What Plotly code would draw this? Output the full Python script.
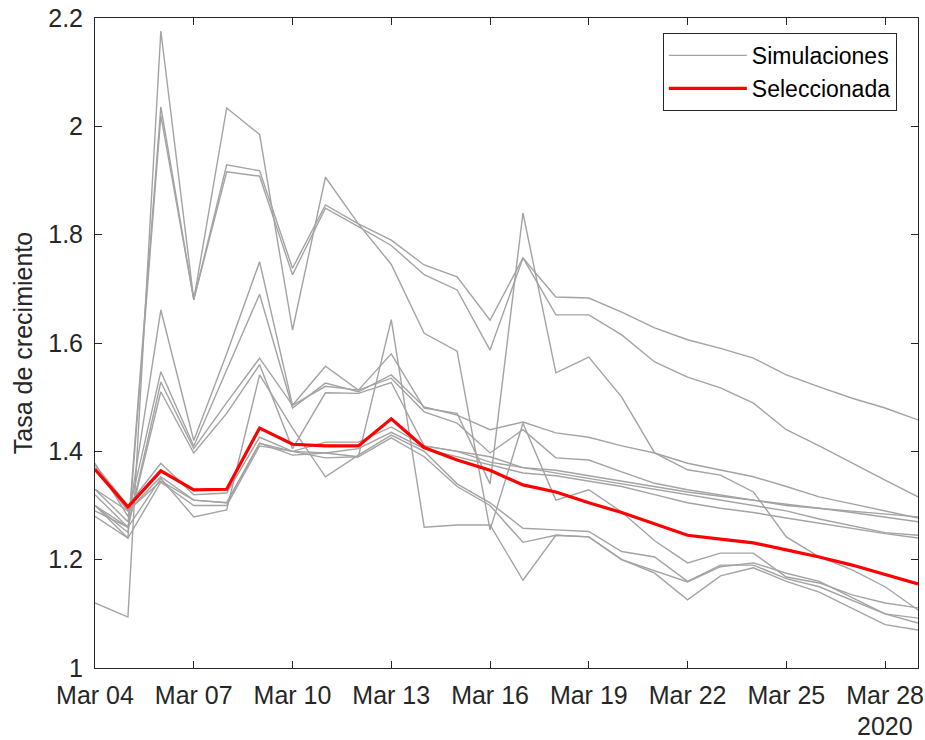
import plotly.graph_objects as go
import pandas as pd

dates = pd.date_range("2020-03-04", "2020-03-29", freq="D")

# Simulated growth-rate series (Simulaciones)
sim_a = [1.12, 1.094, 2.176, 1.68, 2.034, 1.985, 1.624, 1.906, 1.82, 1.745, 1.618, 1.585, 1.255, 1.452, 1.31, 1.329, 1.288, 1.235, 1.194, 1.212, 1.212, 1.168, 1.157, 1.135, 1.12, 1.111]
sim_b = [1.30, 1.25, 2.036, 1.68, 1.929, 1.918, 1.738, 1.855, 1.82, 1.79, 1.744, 1.722, 1.642, 1.757, 1.685, 1.683, 1.657, 1.628, 1.606, 1.59, 1.572, 1.541, 1.519, 1.498, 1.48, 1.458]
sim_c = [1.28, 1.24, 2.02, 1.68, 1.916, 1.908, 1.726, 1.849, 1.815, 1.78, 1.726, 1.698, 1.587, 1.757, 1.652, 1.652, 1.615, 1.565, 1.537, 1.517, 1.489, 1.44, 1.41, 1.378, 1.347, 1.316]
sim_d = [1.33, 1.27, 1.661, 1.42, 1.58, 1.75, 1.485, 1.557, 1.513, 1.58, 1.48, 1.47, 1.34, 1.84, 1.545, 1.574, 1.50, 1.397, 1.366, 1.356, 1.325, 1.242, 1.205, 1.181, 1.15, 1.107]
sim_e = [1.37, 1.29, 1.353, 1.31, 1.305, 1.415, 1.40, 1.397, 1.39, 1.643, 1.26, 1.264, 1.264, 1.162, 1.245, 1.242, 1.20, 1.18, 1.159, 1.187, 1.194, 1.175, 1.16, 1.13, 1.10, 1.092]
sim_f = [1.32, 1.26, 1.35, 1.279, 1.292, 1.541, 1.443, 1.353, 1.393, 1.43, 1.40, 1.34, 1.305, 1.258, 1.255, 1.252, 1.215, 1.205, 1.16, 1.19, 1.19, 1.165, 1.15, 1.125, 1.10, 1.083]
sim_g = [1.375, 1.30, 1.378, 1.32, 1.323, 1.426, 1.40, 1.417, 1.417, 1.445, 1.41, 1.40, 1.39, 1.37, 1.365, 1.355, 1.345, 1.335, 1.325, 1.317, 1.31, 1.302, 1.295, 1.287, 1.278, 1.27]
sim_h = [1.33, 1.29, 1.345, 1.31, 1.305, 1.415, 1.393, 1.397, 1.405, 1.435, 1.405, 1.39, 1.375, 1.36, 1.355, 1.345, 1.335, 1.32, 1.305, 1.295, 1.287, 1.277, 1.267, 1.257, 1.248, 1.24]
sim_i = [1.30, 1.24, 1.343, 1.30, 1.30, 1.41, 1.40, 1.388, 1.39, 1.425, 1.39, 1.335, 1.30, 1.232, 1.245, 1.242, 1.20, 1.175, 1.126, 1.17, 1.185, 1.16, 1.14, 1.11, 1.08, 1.07]
sim_m1 = [1.378, 1.28, 1.547, 1.41, 1.55, 1.69, 1.48, 1.526, 1.51, 1.541, 1.482, 1.467, 1.44, 1.454, 1.434, 1.426, 1.41, 1.397, 1.378, 1.366, 1.353, 1.335, 1.316, 1.303, 1.29, 1.277]
sim_m2 = [1.30, 1.26, 1.528, 1.405, 1.49, 1.572, 1.485, 1.52, 1.513, 1.535, 1.473, 1.452, 1.397, 1.44, 1.388, 1.384, 1.362, 1.341, 1.329, 1.32, 1.31, 1.30, 1.295, 1.29, 1.285, 1.279]
sim_m3 = [1.29, 1.26, 1.51, 1.397, 1.47, 1.56, 1.405, 1.508, 1.507, 1.527, 1.41, 1.40, 1.38, 1.37, 1.36, 1.35, 1.34, 1.33, 1.32, 1.31, 1.30, 1.29, 1.275, 1.262, 1.25, 1.245]

simulations = [sim_a, sim_b, sim_c, sim_d, sim_e, sim_f, sim_g, sim_h, sim_i, sim_m1, sim_m2, sim_m3]

# Selected series (Seleccionada)
selected = [1.367, 1.297, 1.364, 1.329, 1.330, 1.443, 1.413, 1.410, 1.410, 1.460, 1.407, 1.384, 1.365, 1.338, 1.325, 1.305, 1.287, 1.266, 1.245, 1.238, 1.231, 1.218, 1.205, 1.19, 1.172, 1.155]

y_ticks = [1, 1.2, 1.4, 1.6, 1.8, 2, 2.2]
y_ticktext = ["1", "1.2", "1.4", "1.6", "1.8", "2", "2.2"]

FONT = "Liberation Sans, Arial, sans-serif"
AX = "#262626"

fig = go.Figure()
for k, s in enumerate(simulations):
    fig.add_trace(go.Scatter(
        x=dates, y=s, mode="lines", name="Simulaciones",
        line=dict(color="#a3a3a3", width=1.4),
        legendgroup="sim", showlegend=(k == 0), hoverinfo="skip"))
fig.add_trace(go.Scatter(
    x=dates, y=selected, mode="lines", name="Seleccionada",
    line=dict(color="#ff0000", width=3.2)))

fig.update_layout(
    width=925, height=740,
    margin=dict(l=95, r=7, t=18, b=72),
    paper_bgcolor="white", plot_bgcolor="white",
    font=dict(family=FONT, size=25, color=AX),
    legend=dict(x=0.69, y=0.977, xanchor="left", yanchor="top",
                bgcolor="white", bordercolor=AX, borderwidth=1,
                font=dict(size=23, color="#000000"),
                itemwidth=78, tracegroupgap=0),
    showlegend=True,
)
fig.update_xaxes(
    type="date", automargin=False,
    range=["2020-03-04", "2020-03-29"],
    tick0="2020-03-04", dtick=3 * 86400000, tickformat="%b %d",
    ticks="inside", ticklen=7, tickcolor=AX,
    showline=True, linecolor=AX, linewidth=1, mirror="ticks",
    showgrid=False, zeroline=False,
    tickfont=dict(size=25, color=AX), ticklabelstandoff=5,
)
fig.update_yaxes(
    range=[1, 2.2], tickvals=y_ticks, ticktext=y_ticktext, automargin=False,
    ticks="inside", ticklen=7, tickcolor=AX,
    showline=True, linecolor=AX, linewidth=1, mirror="ticks",
    showgrid=False, zeroline=False,
    tickfont=dict(size=25, color=AX), ticklabelstandoff=6,
    title=dict(text="Tasa de crecimiento", font=dict(size=25, color=AX), standoff=8),
)
fig.add_annotation(x="2020-03-28", y=0, xref="x", yref="paper",
                   yshift=-42, yanchor="top", text="2020", showarrow=False,
                   font=dict(size=25, color=AX))

fig.write_html("out.html")
